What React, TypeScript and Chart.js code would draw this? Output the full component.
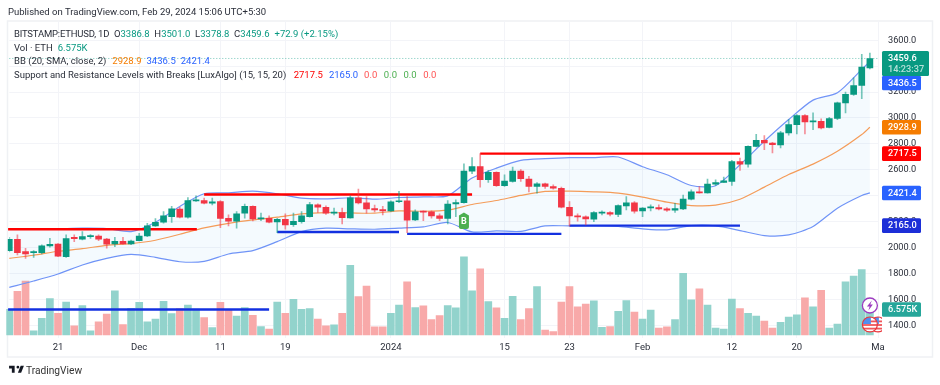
import React, { useEffect, useRef } from "react";
import { Chart, registerables } from "chart.js";

Chart.register(...registerables);

const WIDTH = 940;
const HEIGHT = 385;
const FONT = "Roboto, 'Liberation Sans', sans-serif";

// Daily candles, Nov 15 2023 to Feb 29 2024
const opens = [1976,2064,1968,1960,1960,2012,2027,1929,2079,2064,2084,2089,2066,2027,2048,2027,2053,2089,2167,2195,2239,2296,2234,2360,2363,2342,2355,2226,2203,2265,2317,2221,2226,2198,2218,2177,2200,2239,2329,2311,2265,2270,2229,2384,2345,2301,2293,2283,2353,2360,2213,2278,2275,2244,2224,2337,2347,2590,2624,2523,2580,2477,2510,2590,2528,2471,2492,2471,2456,2311,2244,2236,2218,2265,2270,2255,2322,2345,2283,2306,2309,2298,2288,2298,2373,2430,2422,2490,2502,2510,2663,2644,2781,2828,2807,2792,2885,2949,3019,2970,2975,2928,2996,3117,3182,3251,3386.8];
const highs = [2079,2097,1994,1976,2020,2071,2030,2097,2097,2123,2100,2097,2071,2079,2079,2058,2110,2187,2224,2278,2317,2311,2386,2399,2381,2381,2363,2252,2278,2335,2322,2265,2244,2226,2260,2265,2278,2348,2337,2322,2304,2304,2399,2451,2394,2327,2317,2360,2433,2394,2291,2283,2283,2260,2363,2368,2647,2694,2725,2595,2585,2562,2621,2601,2549,2502,2497,2484,2466,2355,2260,2244,2278,2283,2278,2329,2394,2355,2309,2329,2329,2309,2342,2404,2446,2471,2528,2523,2544,2673,2691,2786,2874,2864,2812,2897,2988,3027,3027,3039,2993,3006,3122,3200,3311,3491,3501];
const lows = [1965,1942,1916,1924,1950,2002,1930,1924,2045,2058,2071,2053,1994,2007,2025,2022,2050,2084,2162,2187,2193,2229,2226,2355,2337,2329,2154,2167,2149,2226,2206,2208,2190,2115,2141,2162,2187,2234,2270,2255,2252,2182,2226,2337,2265,2275,2252,2278,2347,2115,2208,2208,2226,2208,2182,2239,2342,2570,2466,2502,2471,2471,2505,2510,2430,2420,2456,2451,2306,2167,2203,2175,2200,2252,2244,2239,2291,2265,2239,2283,2291,2278,2270,2293,2368,2420,2420,2479,2502,2479,2595,2621,2776,2755,2730,2768,2867,2877,2877,2910,2916,2923,2988,3040,3174,3150,3378.8];
const closes = [2064,1960,1950,1968,2012,2025,1934,2069,2069,2084,2089,2064,2025,2048,2027,2050,2089,2167,2195,2244,2298,2234,2363,2363,2342,2353,2224,2203,2260,2317,2221,2229,2195,2218,2175,2203,2244,2332,2311,2265,2273,2231,2384,2345,2298,2291,2283,2353,2360,2211,2275,2273,2244,2224,2335,2347,2590,2624,2523,2580,2477,2513,2590,2531,2471,2492,2471,2459,2311,2244,2236,2221,2270,2273,2257,2324,2345,2280,2304,2311,2298,2288,2301,2373,2430,2422,2490,2502,2515,2663,2644,2781,2828,2807,2794,2885,2949,3019,2970,2975,2923,2996,3117,3182,3251,3393,3459.6];
// Volume, in thousands of ETH
const volumes = [6.6,11.3,13.9,1.1,4.3,9.4,5.6,8.5,2.4,7.6,1.1,3.4,5.4,11.4,2.7,6.9,8.4,3.4,4.1,8.7,5.5,6.8,7.7,6.7,4.5,1.9,8.4,6.6,4.9,7.1,5.1,2.2,1.5,8.5,5.6,9.2,6.6,6.8,4.1,2.4,2.6,5.6,18.0,9.9,12.6,2.1,2.1,5.6,7.7,13.7,7.1,7.5,4.0,5.0,7.6,7.0,20.2,11.4,17.1,8.6,7.0,4.3,10.0,4.0,6.8,12.5,1.3,0.9,8.5,12.5,7.3,8.0,8.8,2.0,2.2,6.1,8.9,5.9,4.1,6.4,1.8,2.1,4.0,15.9,9.1,11.9,7.7,1.8,1.5,9.3,6.8,5.6,4.9,3.6,1.8,3.3,4.6,5.2,9.6,7.3,11.5,1.8,2.8,13.7,15.2,16.9,6.575];

// Bollinger bands, read every third day
const bandDays = [0,3,6,9,12,15,18,21,24,27,30,33,36,39,42,45,48,51,54,57,60,63,66,69,72,75,78,81,84,87,90,93,96,99,102,105,106];
const bbUpper = [2144,2141,2144,2149,2146,2123,2195,2317,2415,2422,2435,2415,2381,2376,2384,2373,2386,2391,2399,2536,2613,2673,2686,2694,2694,2699,2624,2562,2479,2477,2639,2820,2988,3138,3195,3375,3436.5];
const bbMiddle = [1916,1940,1971,1991,2017,2030,2056,2102,2151,2187,2213,2234,2260,2270,2267,2265,2283,2280,2288,2332,2363,2402,2433,2435,2430,2420,2389,2350,2324,2327,2373,2466,2564,2644,2743,2872,2928.9];
const bbLower = [1692,1741,1795,1865,1916,1947,1924,1890,1893,1950,1976,2045,2123,2149,2144,2141,2149,2159,2193,2120,2128,2125,2167,2167,2169,2162,2144,2136,2169,2167,2131,2092,2097,2162,2304,2402,2421.4];

// Support and resistance levels: [first day, last day, price]
const resistanceLevels = [[-0.2,23.1,2141],[24,57,2409],[58,90,2725]];
const supportLevels = [[-0.2,32,1521],[33,48,2120],[49,68,2105],[69,90,2169]];

const priceTicks = [1400,1600,1800,2000,2200,2400,2600,2800,3000,3200,3400,3600];
const timeTickDays = [6,16,26,34,47,61,69,78,89,97,107];
const timeTickLabels = ["21","Dec","11","19","2024","15","23","Feb","12","20","Ma"];
const buyDay = 56;

const UP = "#089981";
const DOWN = "#f23645";
const UP_WICK = "rgba(8,153,129,0.55)";
const DOWN_WICK = "rgba(242,54,69,0.55)";
const VOL_UP = "#92d3cc";
const VOL_DOWN = "#f8a9a9";
const GRID = "#f3f4f8";

const last = closes.length - 1;
const startUtc = Date.UTC(2023, 10, 15);
const monthNames = ["Jan","Feb","Mar","Apr","May","Jun","Jul","Aug","Sep","Oct","Nov","Dec"];
const dayLabels = Array.from({ length: closes.length + 1 }, (_, i) => {
  const d = new Date(startUtc + i * 86400000);
  return `${monthNames[d.getUTCMonth()]} ${d.getUTCDate()}`;
});
const isUp = closes.map((c, i) => c >= opens[i]);

const pills = [
  { value: bbUpper[bbUpper.length - 1], text: "3436.5", color: "#2962ff", shift: 21.5 },
  { value: bbMiddle[bbMiddle.length - 1], text: "2928.9", color: "#f57c00", shift: 0 },
  { value: resistanceLevels[2][2], text: "2717.5", color: "#ff0000", shift: 0 },
  { value: bbLower[bbLower.length - 1], text: "2421.4", color: "#2962ff", shift: 0 },
  { value: supportLevels[3][2], text: "2165.0", color: "#1c2fd8", shift: 0 },
];

function roundRect(ctx: CanvasRenderingContext2D, x: number, y: number, w: number, h: number, r: number) {
  ctx.beginPath();
  ctx.roundRect(x, y, w, h, r);
  ctx.fill();
}

function drawFlag(ctx: CanvasRenderingContext2D, x: number, y: number) {
  ctx.save();
  ctx.beginPath();
  ctx.arc(x, y, 7.5, 0, Math.PI * 2);
  ctx.fillStyle = "#fff";
  ctx.fill();
  ctx.clip();
  ctx.fillStyle = "#f0565a";
  for (let k = -1; k <= 2; k++) ctx.fillRect(x - 8, y + k * 3.6 - 0.4, 16, 1.8);
  ctx.fillStyle = "#4f8ff0";
  ctx.fillRect(x - 8, y - 8, 9, 7.5);
  ctx.restore();
  ctx.beginPath();
  ctx.arc(x, y, 7.5, 0, Math.PI * 2);
  ctx.strokeStyle = "#e8353b";
  ctx.lineWidth = 1.2;
  ctx.stroke();
}

const overlayPlugin = {
  id: "overlay",
  beforeDraw(chart: any) {
    const { ctx } = chart;
    ctx.save();
    ctx.strokeStyle = "#eff1f4";
    ctx.lineWidth = 1.5;
    ctx.strokeRect(7.5, 21, 925, 336);
    ctx.restore();
  },
  afterDatasetsDraw(chart: any) {
    const { ctx, scales } = chart;
    // buy marker from the indicator
    const bx = scales.x.getPixelForValue(buyDay);
    const by = scales.y.getPixelForValue(2205);
    ctx.save();
    ctx.fillStyle = "#4caf50";
    ctx.beginPath();
    ctx.moveTo(bx, by - 8.5);
    ctx.lineTo(bx + 5, by - 5.5);
    ctx.lineTo(bx + 5, by + 6);
    ctx.quadraticCurveTo(bx + 5, by + 8, bx + 3, by + 8);
    ctx.lineTo(bx - 3, by + 8);
    ctx.quadraticCurveTo(bx - 5, by + 8, bx - 5, by + 6);
    ctx.lineTo(bx - 5, by - 5.5);
    ctx.closePath();
    ctx.fill();
    ctx.fillStyle = "#fff";
    ctx.font = `bold 9px ${FONT}`;
    ctx.textAlign = "center";
    ctx.textBaseline = "middle";
    ctx.fillText("B", bx, by + 0.5);
    ctx.restore();
  },
  afterDraw(chart: any) {
    const { ctx, scales } = chart;
    const px = 882;
    const pw = 39;
    const textX = 888;
    ctx.save();
    ctx.textAlign = "left";
    ctx.textBaseline = "middle";
    ctx.font = `500 9.2px ${FONT}`;
    for (const p of pills) {
      const cy = scales.y.getPixelForValue(p.value) + p.shift;
      ctx.fillStyle = p.color;
      roundRect(ctx, px, cy - 7.3, pw, 14.6, 1.5);
      ctx.fillStyle = "#fff";
      ctx.fillText(p.text, textX, cy + 0.5);
    }
    // last price pill, two lines
    const ly = scales.y.getPixelForValue(closes[last]);
    ctx.fillStyle = UP;
    roundRect(ctx, px, ly - 7.5, 47, 25, 1.5);
    ctx.fillStyle = "#fff";
    ctx.fillText("3459.6", textX, ly + 0.5);
    ctx.fillStyle = "rgba(255,255,255,0.7)";
    ctx.fillText("14:23:37", textX, ly + 11.5);
    // volume pill
    const vy = scales.yVol.getPixelForValue(volumes[last]);
    ctx.fillStyle = "#26a69a";
    roundRect(ctx, px, vy - 7.3, 39, 14.6, 1.5);
    ctx.fillStyle = "#fff";
    ctx.fillText("6.575K", textX, vy + 0.5);
    ctx.restore();

    // event icons
    const ix = scales.x.getPixelForValue(last);
    ctx.save();
    ctx.beginPath();
    ctx.rect(0, 0, px, HEIGHT);
    ctx.clip();
    drawFlag(ctx, ix + 8, 324.5);
    drawFlag(ctx, ix, 324.5);
    ctx.restore();
    ctx.save();
    ctx.beginPath();
    ctx.arc(ix, 305.5, 7.5, 0, Math.PI * 2);
    ctx.fillStyle = "#fff";
    ctx.fill();
    ctx.strokeStyle = "#9c3cc0";
    ctx.lineWidth = 1.3;
    ctx.stroke();
    ctx.fillStyle = "#9c3cc0";
    ctx.beginPath();
    ctx.moveTo(ix + 2, 300.5);
    ctx.lineTo(ix - 3, 306.5);
    ctx.lineTo(ix - 0.3, 306.5);
    ctx.lineTo(ix - 1.5, 310.5);
    ctx.lineTo(ix + 3, 304.5);
    ctx.lineTo(ix + 0.4, 304.5);
    ctx.closePath();
    ctx.fill();
    ctx.restore();
  },
};

const lineText: React.CSSProperties = { position: "absolute", whiteSpace: "pre", fontFamily: FONT, fontSize: 9.5, color: "#2a2e39", lineHeight: "12px" };

function Seg({ c, ml = 5, children }: { c: string; ml?: number; children: React.ReactNode }) {
  return <span style={{ color: c, marginLeft: ml }}>{children}</span>;
}

export default function App() {
  const ref = useRef<HTMLCanvasElement | null>(null);

  useEffect(() => {
    document.body.style.margin = "0";
    document.body.style.background = "#fff";
    const levelSet = (levels: number[][], color: string) =>
      levels.map((lv) => ({
        type: "line" as const,
        data: [
          { x: lv[0], y: lv[2] },
          { x: lv[1], y: lv[2] },
        ],
        borderColor: color,
        borderWidth: 2.4,
        pointRadius: 0,
        order: 3,
        parsing: false as const,
      }));
    const band = (vals: number[], color: string, extra: object = {}) => ({
      type: "line" as const,
      data: bandDays.map((d, i) => ({ x: dayLabels[d], y: vals[i] })),
      borderColor: color,
      borderWidth: 1.2,
      pointRadius: 0,
      tension: 0.25,
      order: 5,
      ...extra,
    });
    const chart = new Chart(ref.current as HTMLCanvasElement, {
      type: "bar",
      data: {
        labels: dayLabels,
        datasets: [
          {
            type: "bar",
            label: "Volume",
            data: volumes,
            yAxisID: "yVol",
            backgroundColor: volumes.map((_, i) => (isUp[i] ? VOL_UP : VOL_DOWN)),
            barThickness: 7,
            grouped: false,
            order: 8,
            clip: 3,
          },
          band(bbUpper, "#7294f7", { fill: { target: "+1" }, backgroundColor: "rgba(33,150,243,0.05)" }),
          band(bbLower, "#7294f7"),
          band(bbMiddle, "#ff9c52"),
          ...levelSet(resistanceLevels, "#ff0000"),
          ...levelSet(supportLevels, "#1330e0"),
          {
            type: "line",
            data: [
              { x: 0, y: closes[last] },
              { x: last + 1, y: closes[last] },
            ],
            parsing: false,
            borderColor: "rgba(8,153,129,0.55)",
            borderWidth: 1,
            borderDash: [1, 2],
            pointRadius: 0,
            order: 4,
          },
          {
            type: "bar",
            label: "Wick",
            data: highs.map((h, i) => [lows[i], h]),
            backgroundColor: isUp.map((u) => (u ? UP_WICK : DOWN_WICK)),
            barThickness: 1,
            grouped: false,
            order: 2,
          },
          {
            type: "bar",
            label: "Body",
            data: opens.map((o, i) => [o, closes[i]]),
            backgroundColor: isUp.map((u) => (u ? UP : DOWN)),
            barThickness: 6,
            minBarLength: 1,
            grouped: false,
            order: 1,
            clip: 1.5,
          },
        ] as any,
      },
      options: {
        responsive: false,
        animation: false,
        events: [],
        layout: { padding: { left: 9.3, right: 0, top: 21, bottom: 28 } },
        plugins: { legend: { display: false }, tooltip: { enabled: false } },
        scales: {
          x: {
            type: "category",
            offset: false,
            grid: {
              offset: false,
              drawTicks: false,
              color: (c: any) => (timeTickDays.includes(c.index) ? GRID : "rgba(0,0,0,0)"),
            },
            border: { display: false },
            afterFit: (s: any) => {
              s.height = 19;
            },
            ticks: {
              autoSkip: false,
              maxRotation: 0,
              padding: 4,
              color: "#2a2e39",
              font: { family: FONT, size: 9.5 },
              callback: (_: any, i: number) => {
                const k = timeTickDays.indexOf(i);
                return k >= 0 ? timeTickLabels[k] : "";
              },
            },
          },
          y: {
            position: "right",
            min: 1301.2,
            max: 3749,
            grid: { drawTicks: false, color: GRID },
            border: { display: false },
            afterFit: (s: any) => {
              s.width = 62;
            },
            afterBuildTicks: (s: any) => {
              s.ticks = priceTicks.map((value) => ({ value }));
            },
            ticks: {
              padding: 10,
              color: "#2a2e39",
              font: { family: FONT, size: 9.2 },
              callback: (v: any) => Number(v).toFixed(1),
            },
          },
          yVol: { display: false, min: -0.77, max: 81, grid: { display: false } },
        },
      } as any,
      plugins: [overlayPlugin as any],
    });
    return () => chart.destroy();
  }, []);

  return (
    <div style={{ position: "absolute", left: 0, top: 0, width: WIDTH, height: HEIGHT, overflow: "hidden", background: "#fff" }}>
      <canvas ref={ref} width={WIDTH} height={HEIGHT} style={{ display: "block" }} />
      <div style={{ ...lineText, left: 8, top: 6 }}>Published on TradingView.com, Feb 29, 2024 15:06 UTC+5:30</div>
      <div style={{ ...lineText, left: 14, top: 27.5 }}>
        <span style={{ letterSpacing: -0.2 }}>BITSTAMP:ETHUSD, 1D</span>{"  O"}<Seg c={UP} ml={0}>3386.8</Seg>{"  H"}<Seg c={UP} ml={0}>3501.0</Seg>{"  L"}<Seg c={UP} ml={0}>3378.8</Seg>{"  C"}<Seg c={UP} ml={0}>3459.6</Seg><Seg c={UP}>+72.9 (+2.15%)</Seg>
      </div>
      <div style={{ ...lineText, left: 14, top: 41.5 }}>
        {"Vol · ETH"}<Seg c={UP}>6.575K</Seg>
      </div>
      <div style={{ ...lineText, left: 14, top: 55 }}>
        {"BB (20, SMA, close, 2)"}<Seg c="#f57c00" ml={6}>2928.9</Seg><Seg c="#2962ff">3436.5</Seg><Seg c="#2962ff">2421.4</Seg>
      </div>
      <div style={{ ...lineText, left: 14, top: 69 }}>
        {"Support and Resistance Levels with Breaks [LuxAlgo] (15, 15, 20)"}<Seg c="#ff0000" ml={7.5}>2717.5</Seg><Seg c="#2962ff" ml={6}>2165.0</Seg><Seg c="#ff5252" ml={6}>0.0</Seg><Seg c="#4caf50" ml={6.5}>0.0</Seg><Seg c="#4caf50" ml={6.5}>0.0</Seg><Seg c="#ff5252" ml={6.5}>0.0</Seg>
      </div>
      <svg style={{ position: "absolute", left: 7.5, top: 363 }} width="17" height="13" viewBox="0 0 36 28">
        <path fill="#131722" d="M14 6H2v6h6v9h6V6zm14 15h-7l6-15h7l-6 15zm-7-9a3 3 0 1 0 0-6 3 3 0 0 0 0 6z" />
      </svg>
      <div style={{ ...lineText, left: 26, top: 365, fontSize: 10.2, color: "#333" }}>TradingView</div>
    </div>
  );
}
